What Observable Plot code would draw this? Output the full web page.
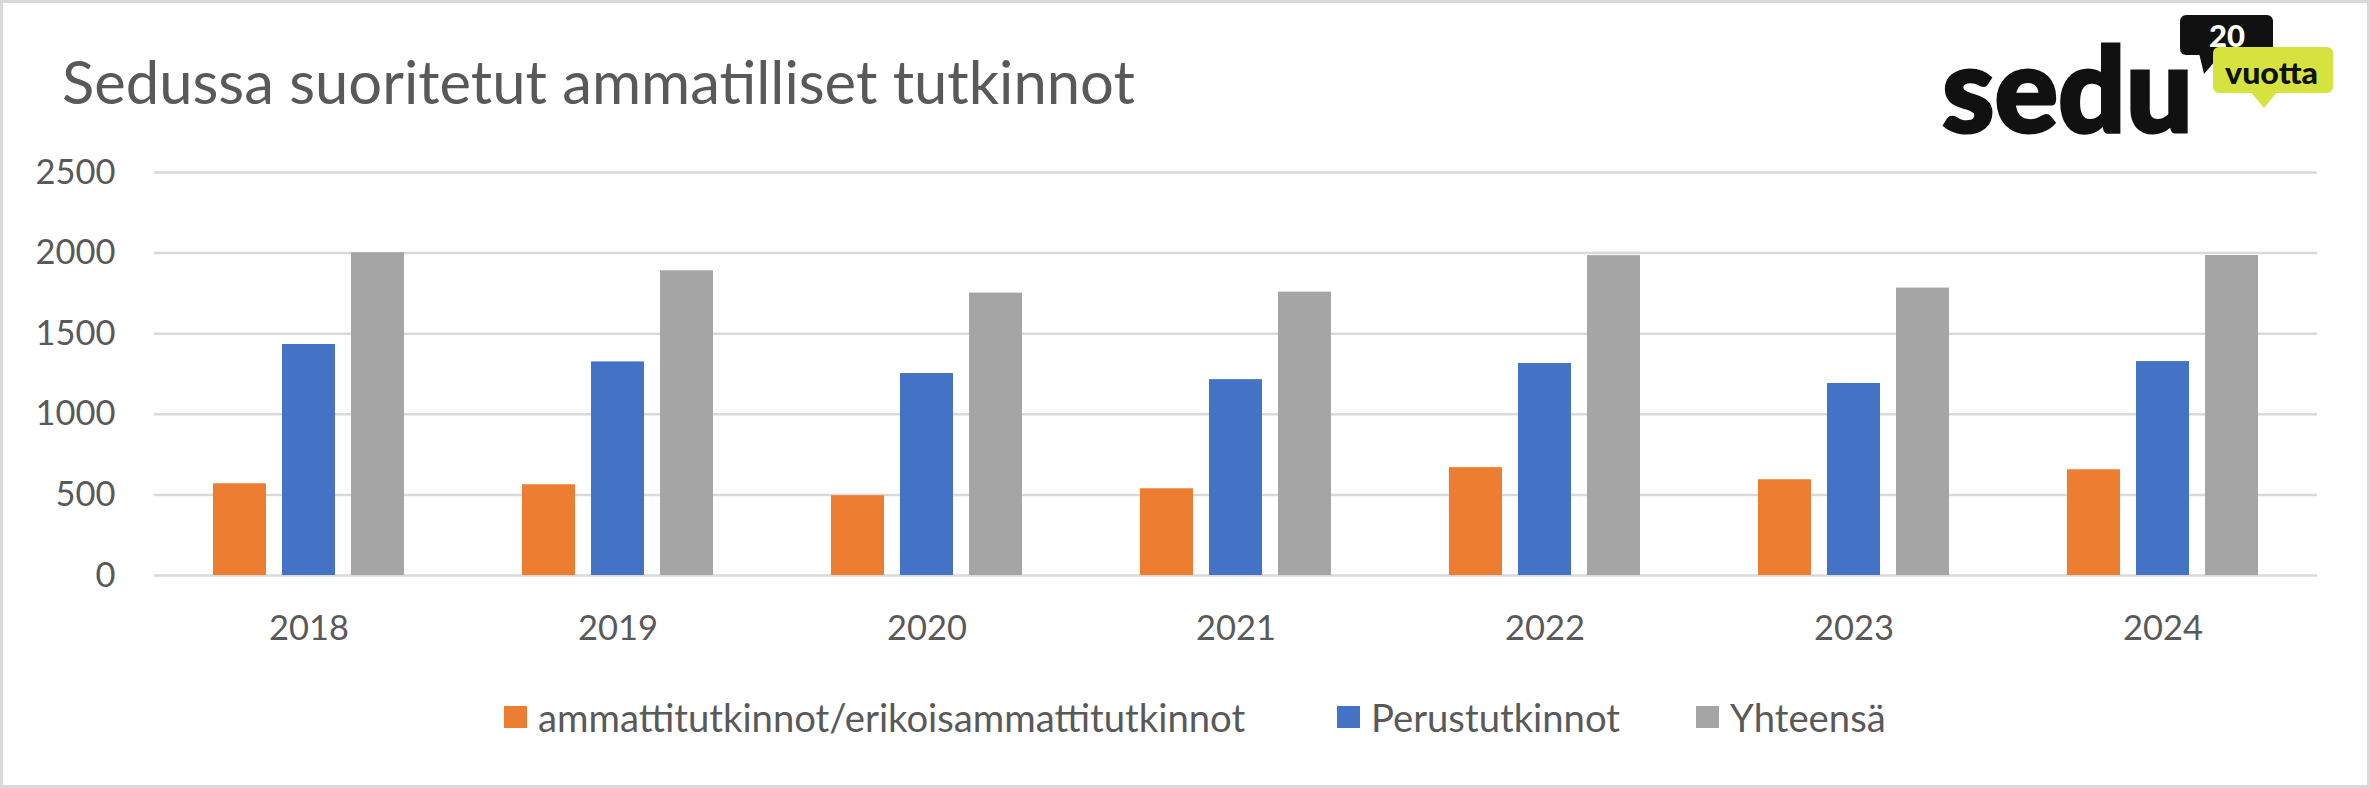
<!DOCTYPE html>
<html>
<head>
<meta charset="utf-8">
<script src="https://cdn.jsdelivr.net/npm/d3@7"></script>
<script src="https://cdn.jsdelivr.net/npm/@observablehq/plot@0.6"></script>
<style>
  html, body { margin: 0; padding: 0; background: #fff; }
  #chart { position: relative; width: 2370px; height: 788px; background: #fff; overflow: hidden; }
  #frame { position: absolute; left: 0; top: 0; width: 2370px; height: 788px; box-sizing: border-box; border: 3px solid #d9d9d9; pointer-events: none; }
  #title { position: absolute; left: 62px; color: #595959; white-space: nowrap; line-height: 1; }
  #plot { position: absolute; left: 0; top: 140px; }
  .item { position: absolute; display: flex; align-items: center; color: #595959; line-height: 1; white-space: nowrap; }
  .sw { width: 23px; height: 22px; margin-right: 11px; flex: none; }
  #logo { position: absolute; left: 1930px; top: 0; }
</style>
</head>
<body>
<div id="chart">
  <div id="title">Sedussa suoritetut ammatilliset tutkinnot</div>
  <div id="plot"></div>
  <svg id="logo" width="420" height="180" viewBox="1930 0 420 180">
    <rect x="2180" y="15" width="93" height="40" rx="6" fill="#111"/>
    <polygon points="2199,53 2204,74 2222,53" fill="#111"/>
    <rect x="2213" y="47" width="120" height="46" rx="6" fill="#d6e33f"/>
    <polygon points="2250,91 2264,108 2278,91" fill="#d6e33f"/>
    <text x="2227" y="47" text-anchor="middle" font-family="Lato, sans-serif" font-weight="900" font-size="31" fill="#fff">20</text>
    <text x="2225" y="84" font-family="Lato, sans-serif" font-weight="900" font-size="30" textLength="93" lengthAdjust="spacingAndGlyphs" fill="#111">vuotta</text>
    <text x="1942" y="132" font-family="Lato, sans-serif" font-weight="900" font-size="118" textLength="251" lengthAdjust="spacingAndGlyphs" fill="#111" stroke="#111" stroke-width="3">sedu</text>
  </svg>
  <div id="frame"></div>
</div>
<script>
// ---- data ----
const years = ["2018", "2019", "2020", "2021", "2022", "2023", "2024"];
const seriesNames = ["ammattitutkinnot/erikoisammattitutkinnot", "Perustutkinnot", "Yhteensä"];
const ammattitutkinnot = [569, 563, 495, 538, 669, 594, 656];
const perustutkinnot = [1433, 1325, 1253, 1215, 1315, 1191, 1327];
const yhteensa = [2002, 1890, 1752, 1758, 1984, 1783, 1985];
const seriesColors = ["#ED7D31", "#4472C4", "#A5A5A5"];
const yTicks = [0, 500, 1000, 1500, 2000, 2500];

const seriesValues = [ammattitutkinnot, perustutkinnot, yhteensa];
const rows = years.flatMap((year, i) =>
  seriesNames.map((s, j) => ({year, series: s, value: seriesValues[j][i]}))
);

// ---- fonts sized to match reference text widths ----
const FONT = "Lato, 'Open Sans', sans-serif";
const ctx = document.createElement("canvas").getContext("2d");
function fit(text, target, weight = "400") {
  ctx.font = `${weight} 100px ${FONT}`;
  return 100 * target / ctx.measureText(text).width;
}
const titleSize = fit("Sedussa suoritetut ammatilliset tutkinnot", 1073);
const tickSize = fit("2018", 80);
const legendSize = fit("Perustutkinnot", 249);

// title: baseline at y=105
const title = document.getElementById("title");
title.style.fontFamily = FONT;
title.style.fontSize = titleSize + "px";
title.style.top = (105 - 0.887 * titleSize) + "px";

// ---- plot ----
const chart = Plot.plot({
  width: 2370,
  height: 520,
  marginLeft: 153,
  marginRight: 53,
  marginTop: 32,
  marginBottom: 85,
  style: {fontFamily: FONT, fontSize: tickSize + "px", color: "#595959", background: "transparent"},
  fx: {domain: years, padding: 0, label: null, axis: "bottom", tickSize: 0, tickPadding: 40},
  x: {domain: seriesNames, paddingInner: 0.232, paddingOuter: 0.855, axis: null},
  y: {domain: [0, 2500], ticks: yTicks, tickSize: 0, tickPadding: 39, label: null, tickFormat: d => String(d)},
  color: {domain: seriesNames, range: seriesColors},
  marks: [
    Plot.ruleY(yTicks, {stroke: "#d9d9d9", strokeWidth: 2.5}),
    Plot.barY(rows, {fx: "year", x: "series", y: "value", fill: "series"})
  ]
});
document.getElementById("plot").appendChild(chart);

// ---- legend ----
const chartDiv = document.getElementById("chart");
const legendLeft = [504, 1337, 1696];
seriesNames.forEach((s, i) => {
  const item = document.createElement("div");
  item.className = "item";
  item.style.fontFamily = FONT;
  item.style.fontSize = legendSize + "px";
  item.style.left = legendLeft[i] + "px";
  item.style.top = (732 - 0.887 * legendSize) + "px";
  item.style.height = legendSize + "px";
  const sw = document.createElement("div");
  sw.className = "sw";
  sw.style.background = seriesColors[i];
  const label = document.createElement("span");
  label.textContent = s;
  item.appendChild(sw);
  item.appendChild(label);
  chartDiv.insertBefore(item, document.getElementById("frame"));
});
</script>
</body>
</html>
